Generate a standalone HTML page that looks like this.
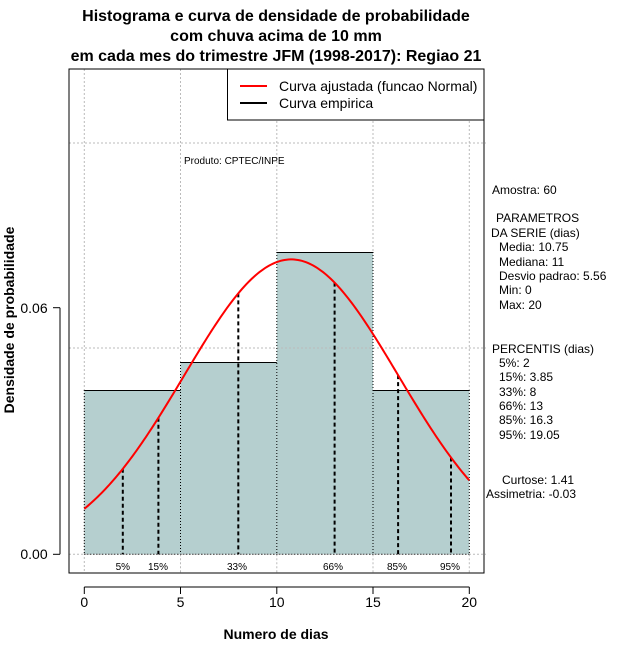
<!DOCTYPE html>
<html><head><meta charset="utf-8"><style>
body{margin:0;background:#fff}
svg{display:block}
text{font-family:"Liberation Sans","DejaVu Sans",sans-serif}
</style></head><body>
<svg id="s" width="640" height="660" xmlns="http://www.w3.org/2000/svg">
<rect width="640" height="660" fill="#fff"/>
<g font-weight="bold" font-size="16" text-anchor="middle" fill="#000">
<text x="276" y="21">Histograma e curva de densidade de probabilidade</text>
<text x="276" y="41">com chuva acima de 10 mm</text>
<text x="276" y="61">em cada mes do trimestre JFM (1998-2017): Regiao 21</text>
</g>
<!-- bars -->
<g fill="#b5cfcf">
<rect x="84.3" y="390" width="96.2" height="164.3"/>
<rect x="180.5" y="362" width="96.3" height="192.3"/>
<rect x="276.8" y="252" width="96.2" height="302.3"/>
<rect x="373" y="390" width="96.3" height="164.3"/>
</g>
<g stroke="#000" stroke-width="1">
<line x1="84.3" y1="390.5" x2="180.5" y2="390.5"/>
<line x1="180.5" y1="362.5" x2="276.8" y2="362.5"/>
<line x1="276.8" y1="252.5" x2="373" y2="252.5"/>
<line x1="373" y1="390.5" x2="469.3" y2="390.5"/>
</g>
<!-- grid -->
<g stroke="#bbb" stroke-dasharray="2,2" stroke-width="1">
<line x1="84.3" y1="69" x2="84.3" y2="573"/>
<line x1="180.5" y1="69" x2="180.5" y2="362"/>
<line x1="276.8" y1="69" x2="276.8" y2="252"/>
<line x1="373" y1="69" x2="373" y2="252"/>
<line x1="469.3" y1="69" x2="469.3" y2="390"/>
<line x1="180.5" y1="554.3" x2="180.5" y2="573"/>
<line x1="276.8" y1="554.3" x2="276.8" y2="573"/>
<line x1="373" y1="554.3" x2="373" y2="573"/>
<line x1="469.3" y1="554.3" x2="469.3" y2="573"/>
<line x1="69" y1="143" x2="486" y2="143"/>
<line x1="69" y1="348" x2="486" y2="348"/>
<line x1="69" y1="554.3" x2="486" y2="554.3"/>
</g>
<g stroke="#000" stroke-dasharray="1,2" stroke-width="1">
<line x1="84.3" y1="390" x2="84.3" y2="554"/>
<line x1="180.5" y1="362" x2="180.5" y2="554"/>
<line x1="276.8" y1="252" x2="276.8" y2="554"/>
<line x1="373" y1="252" x2="373" y2="554"/>
<line x1="469.3" y1="390" x2="469.3" y2="554"/>
<line x1="84.3" y1="554.3" x2="469.3" y2="554.3"/>
</g>
<g stroke="#000" stroke-width="2" stroke-dasharray="4,3">
<line x1="122.8" x2="122.8" y1="468.8" y2="554.3"/>
<line x1="158.4" x2="158.4" y1="417.8" y2="554.3"/>
<line x1="238.3" x2="238.3" y1="293.4" y2="554.3"/>
<line x1="334.6" x2="334.6" y1="282.6" y2="554.3"/>
<line x1="398.1" x2="398.1" y1="375.1" y2="554.3"/>
<line x1="451.0" x2="451.0" y1="457.5" y2="554.3"/>
</g>
<path id="curve" fill="none" stroke="#f00" stroke-width="2"/>
<g font-size="10" text-anchor="middle">
<text x="122.8" y="570">5%</text><text x="158" y="570">15%</text>
<text x="237" y="570">33%</text><text x="333" y="570">66%</text>
<text x="397" y="570">85%</text><text x="450" y="570">95%</text>
</g>
<rect x="69" y="69" width="415" height="504" fill="none" stroke="#000"/>
<!-- axes -->
<g stroke="#000">
<line x1="84.3" y1="587" x2="469.3" y2="587"/>
<line x1="84.3" y1="587" x2="84.3" y2="594"/>
<line x1="180.5" y1="587" x2="180.5" y2="594"/>
<line x1="276.8" y1="587" x2="276.8" y2="594"/>
<line x1="373" y1="587" x2="373" y2="594"/>
<line x1="469.3" y1="587" x2="469.3" y2="594"/>
<line x1="60" y1="554.3" x2="60" y2="307.7"/>
<line x1="60" y1="554.3" x2="53" y2="554.3"/>
<line x1="60" y1="307.7" x2="53" y2="307.7"/>
</g>
<g font-size="14" text-anchor="middle">
<text x="84.3" y="607">0</text><text x="180.5" y="607">5</text><text x="276.8" y="607">10</text><text x="373" y="607">15</text><text x="469.3" y="607">20</text>
<text x="34" y="559">0.00</text><text x="34" y="313">0.06</text>
</g>
<text x="276" y="639" font-size="14" font-weight="bold" text-anchor="middle">Numero de dias</text>
<text transform="translate(14,320) rotate(-90)" font-size="14" font-weight="bold" text-anchor="middle">Densidade de probabilidade</text>
<text x="184" y="164" font-size="10">Produto: CPTEC/INPE</text>
<!-- legend -->
<rect x="227.5" y="69" width="256.5" height="51" fill="#fff" stroke="#000"/>
<line x1="240" y1="86" x2="267" y2="86" stroke="#f00" stroke-width="2"/>
<line x1="240" y1="103" x2="267" y2="103" stroke="#000" stroke-width="2"/>
<g font-size="14"><text x="279" y="91">Curva ajustada (funcao Normal)</text><text x="279" y="108">Curva empirica</text></g>
<g font-size="12">
<text x="492" y="194">Amostra: 60</text>
<text x="496" y="222">PARAMETROS</text>
<text x="491" y="237">DA SERIE (dias)</text>
<text x="499" y="251">Media: 10.75</text>
<text x="499" y="266">Mediana: 11</text>
<text x="499" y="280">Desvio padrao: 5.56</text>
<text x="499" y="294">Min: 0</text>
<text x="499" y="309">Max: 20</text>
<text x="492" y="353">PERCENTIS (dias)</text>
<text x="499" y="367">5%: 2</text>
<text x="499" y="381">15%: 3.85</text>
<text x="499" y="396">33%: 8</text>
<text x="499" y="410">66%: 13</text>
<text x="499" y="424">85%: 16.3</text>
<text x="499" y="439">95%: 19.05</text>
<text x="502" y="484">Curtose: 1.41</text>
<text x="486" y="498">Assimetria: -0.03</text>
</g>
<script>
var m=10.75,s=5.56;
function f(x){return Math.exp(-0.5*Math.pow((x-m)/s,2))/(s*Math.sqrt(2*Math.PI));}
function X(x){return 84.3+x*19.25;}
function Y(d){return 554.3-d*4110;}
var d="";
for(var i=0;i<=200;i++){var x=i/10;d+=(i?"L":"M")+X(x).toFixed(2)+","+Y(f(x)).toFixed(2);}
document.getElementById("curve").setAttribute("d",d);
</script>
</svg>
</body></html>
